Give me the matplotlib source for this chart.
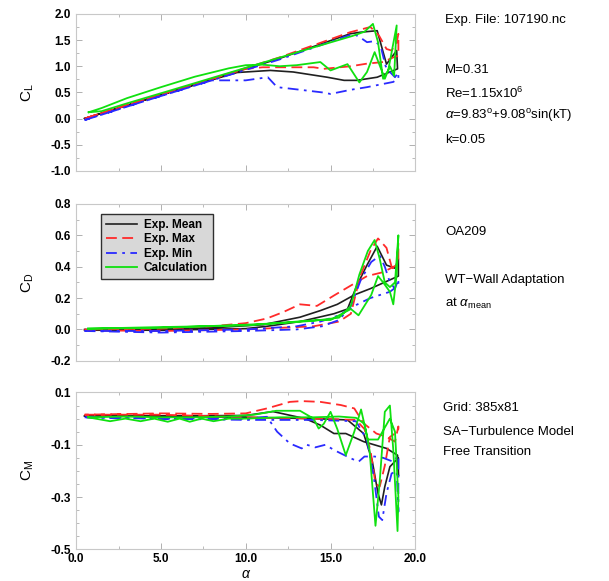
import numpy as np
import matplotlib
matplotlib.use('Agg')
import matplotlib.pyplot as plt
from matplotlib.ticker import MultipleLocator, FixedLocator

# font for everything
plt.rcParams['font.family'] = ['Liberation Sans', 'DejaVu Sans']
plt.rcParams['mathtext.fontset'] = 'custom'
plt.rcParams['mathtext.rm'] = 'Liberation Sans'
plt.rcParams['mathtext.it'] = 'Liberation Sans:italic'

# ---- data: hysteresis loops, upstroke then downstroke ----
# C_L
cl_mean_alpha = [0.5, 4, 8, 12, 16.15, 16.75, 17.75, 18.05, 18.3, 18.6, 18.9, 18.95,
                 17.75, 16.55, 15.8, 14.8, 12.8, 11.45, 9.5, 6, 3, 0.5]
cl_mean = [0.0, 0.35, 0.75, 1.15, 1.62, 1.65, 1.68, 1.33, 1.04, 1.17, 1.3, 0.95,
           0.79, 0.73, 0.73, 0.79, 0.89, 0.92, 0.88, 0.55, 0.25, 0.0]
cl_max_alpha = [0.5, 4, 8, 12, 16.15, 17.35, 17.85, 18.3, 18.6, 18.9, 19.0, 19.0,
                18.7, 18.1, 17.15, 16.2, 14.6, 14.0, 11.0, 10.0, 6, 3, 0.5]
cl_max = [0.0, 0.36, 0.76, 1.17, 1.65, 1.75, 1.59, 1.33, 1.3, 1.45, 1.62, 1.2,
          1.17, 1.08, 1.05, 1.0, 0.95, 0.98, 0.98, 0.95, 0.56, 0.26, 0.0]
cl_min_alpha = [0.5, 4, 8, 12, 16.35, 16.75, 17.15, 17.6, 17.95, 18.25, 18.5, 18.8, 19.0, 19.0,
                18.7, 17.15, 16.2, 15.0, 14.5, 13.2, 11.85, 11.3, 10.0, 8.3, 8.0, 4, 0.5]
cl_min = [-0.03, 0.33, 0.73, 1.13, 1.62, 1.55, 1.46, 1.48, 1.39, 1.0, 0.89, 0.79, 0.88, 0.77,
          0.7, 0.6, 0.55, 0.47, 0.5, 0.55, 0.6, 0.79, 0.73, 0.73, 0.73, 0.33, -0.03]
cl_calc_alpha = [0.74, 1.5, 3, 6, 10, 14, 16.3, 17.0, 17.5, 17.8, 18.1, 18.4, 18.9,
                 18.75, 18.5, 18.2, 17.6, 17.15, 16.7, 16.0, 15.0, 14.4, 13, 12, 11, 10,
                 9, 7, 5, 3, 1.5, 0.74]
cl_calc = [0.12, 0.14, 0.29, 0.58, 0.97, 1.36, 1.58, 1.66, 1.81, 1.46, 0.76, 0.92, 1.78,
           0.82, 1.0, 0.76, 1.27, 0.89, 0.69, 1.04, 0.92, 1.08, 1.02, 1.0, 1.03, 1.02,
           0.96, 0.8, 0.6, 0.39, 0.2, 0.12]

# C_D
cd_mean_alpha = [0.5, 5, 10, 11.25, 13.2, 15.2, 16.0, 16.55, 17.15, 17.75, 18.3, 18.8, 19.0,
                 19.0, 17.35, 16.4, 15.4, 14.4, 13.2, 11, 8, 5, 0.5]
cd_mean = [-0.005, -0.005, 0.005, 0.02, 0.05, 0.1, 0.13, 0.28, 0.41, 0.53, 0.41, 0.39, 0.45,
           0.34, 0.26, 0.22, 0.16, 0.12, 0.078, 0.03, 0.01, 0.005, 0.0]
cd_max_alpha = [0.5, 5, 10, 14, 15.5, 16.2, 16.75, 17.35, 17.8, 18.3, 18.6, 18.9, 19.0,
                19.0, 18.9, 18.1, 17.15, 16.2, 15.2, 14.2, 13.2, 12.2, 11.25, 10, 8, 5, 0.5]
cd_max = [-0.005, -0.01, 0.0, 0.02, 0.05, 0.1, 0.34, 0.5, 0.58, 0.52, 0.4, 0.37, 0.55,
          0.45, 0.41, 0.365, 0.34, 0.28, 0.216, 0.15, 0.16, 0.11, 0.07, 0.04, 0.02, 0.005, 0.0]
cd_min_alpha = [0.5, 5, 10, 13, 14.5, 15.5, 16.2, 16.8, 17.4, 17.9, 18.2, 18.5, 18.8, 19.0,
                19.0, 18.5, 17.35, 16.4, 15.5, 14.4, 13, 10, 5, 0.5]
cd_min = [-0.01, -0.02, -0.01, 0.0, 0.02, 0.06, 0.15, 0.32, 0.43, 0.47, 0.4, 0.3, 0.26, 0.32,
          0.28, 0.24, 0.2, 0.15, 0.09, 0.05, 0.02, 0.0, -0.01, -0.01]
cd_calc_alpha = [0.7, 5, 10, 12, 14, 15.5, 16.2, 16.7, 17.2, 17.6, 17.9, 18.2, 18.5, 18.8, 19.0,
                 18.9, 18.7, 18.5, 18.1, 17.8, 17.4, 16.65, 16.2, 15.5, 15.0, 14.3, 13, 10, 5, 0.7]
cd_calc = [0.005, 0.01, 0.03, 0.04, 0.055, 0.075, 0.15, 0.35, 0.5, 0.57, 0.45, 0.3, 0.27, 0.3, 0.6,
           0.35, 0.16, 0.24, 0.3, 0.34, 0.22, 0.09, 0.13, 0.09, 0.06, 0.06, 0.05, 0.025, 0.015, 0.005]

# C_M
cm_mean_alpha = [0.5, 5, 10, 14, 16, 16.95, 17.45, 17.8, 18.0, 18.2, 18.5, 19.0,
                 19.0, 18.95, 18.3, 16.95, 15.9, 15.2, 14.4, 13.5, 11.6, 10, 5, 0.5]
cm_mean = [0.01, 0.008, 0.005, 0.0, -0.005, -0.057, -0.159, -0.286, -0.33, -0.26, -0.184, -0.15,
           -0.22, -0.14, -0.114, -0.088, -0.057, -0.057, -0.025, 0.0, 0.027, 0.012, 0.01, 0.01]
cm_max_alpha = [0.5, 5, 10, 14, 16.5, 17.0, 17.35, 17.65, 17.9, 18.2, 18.5, 18.8, 19.0,
                19.0, 18.8, 18.3, 17.7, 16.95, 16.4, 15.6, 14.4, 13.3, 12.6, 11.25, 10, 8, 5, 0.5]
cm_max = [0.015, 0.015, 0.005, 0.0, -0.005, -0.04, -0.12, -0.248, -0.26, -0.18, -0.07, -0.057, -0.04,
          -0.03, -0.088, -0.07, -0.057, -0.018, 0.039, 0.052, 0.064, 0.067, 0.064, 0.039, 0.02,
          0.018, 0.02, 0.015]
cm_min_alpha = [0.5, 5, 10, 14, 16.5, 17.15, 17.55, 17.85, 18.05, 18.3, 18.6, 18.9, 19.0,
                19.0, 18.7, 18.1, 17.6, 17.0, 16.65, 16.2, 15.2, 14.7, 14.1, 13.6, 13.3, 12.6,
                11.85, 11.25, 10, 5, 0.5]
cm_min = [0.005, 0.0, -0.005, -0.005, -0.01, -0.082, -0.222, -0.375, -0.388, -0.286, -0.21, -0.2,
          -0.356, -0.14, -0.165, -0.15, -0.145, -0.145, -0.165, -0.152, -0.12, -0.1, -0.11, -0.1,
          -0.114, -0.095, -0.05, 0.007, 0.0, 0.0, 0.005]
cm_calc_alpha = [0.7, 2.0, 2.9, 3.8, 4.6, 5.4, 6.1, 6.7, 7.4, 8.1, 9, 10, 12, 14, 15.5, 16.5,
                 17.0, 17.3, 17.65, 17.9, 18.2, 18.5, 18.7, 18.95, 19.0,
                 18.8, 18.5, 17.8, 17.2, 16.8, 16.4, 15.9, 15.4, 15.0, 14.6, 14.3, 14.0, 13.2,
                 11.8, 10.5, 9, 7, 5, 3, 0.7]
cm_calc = [0.005, -0.01, 0.0, -0.01, 0.0, -0.012, 0.0, -0.012, 0.0, -0.01, 0.0, 0.0, 0.005, 0.005,
           0.008, 0.003, -0.02, -0.12, -0.41, -0.24, 0.026, 0.05, -0.12, -0.43, -0.3,
           -0.05, 0.0, -0.08, -0.08, 0.035, -0.05, -0.14, -0.04, 0.026, -0.02, -0.038, 0.0, 0.03,
           0.03, 0.015, 0.008, 0.005, 0.005, 0.008, 0.005]

series_labels = ['Exp. Mean', 'Exp. Max', 'Exp. Min', 'Calculation']
cm_ticks = [0.1, -0.1, -0.3, -0.5]

# ---- styles ----
styles = [dict(color='#202020', ls='-', lw=1.2),
          dict(color='#ff2a2a', ls=(0, (6, 3)), lw=1.3),
          dict(color='#2a2aff', ls=(0, (6, 3, 1.5, 3)), lw=1.3),
          dict(color='#10e010', ls='-', lw=1.3)]

fig = plt.figure(figsize=(6.09, 5.81), dpi=100)

def make_ax(rect, ylim, ymajor, yminor, ylabel, sub):
    ax = fig.add_axes(rect)
    ax.set_xlim(0, 20)
    ax.set_ylim(*ylim)
    ax.xaxis.set_major_locator(MultipleLocator(5))
    ax.xaxis.set_minor_locator(MultipleLocator(2.5))
    if isinstance(ymajor, list):
        ax.yaxis.set_major_locator(FixedLocator(ymajor))
    else:
        ax.yaxis.set_major_locator(MultipleLocator(ymajor))
    ax.yaxis.set_minor_locator(MultipleLocator(yminor))
    for sp in ax.spines.values():
        sp.set_color('#c8c8c8')
        sp.set_linewidth(0.8)
    ax.tick_params(which='both', direction='in', top=True, right=True, color='#b0b0b0')
    ax.tick_params(which='major', length=4, width=0.7, labelsize=8.5, pad=4)
    ax.tick_params(which='minor', length=2.5, width=0.6)
    ax.yaxis.set_major_formatter(plt.FormatStrFormatter('%.1f'))
    ax.set_ylabel(ylabel + r'$_\mathregular{' + sub + '}$', fontsize=11, labelpad=10)
    return ax

ax1 = make_ax([0.125, 0.706, 0.557, 0.270], (-1.0, 2.0), 0.5, 0.25, 'C', 'L')
ax2 = make_ax([0.125, 0.379, 0.557, 0.270], (-0.2, 0.8), 0.2, 0.1, 'C', 'D')
ax3 = make_ax([0.125, 0.0545, 0.557, 0.270], (-0.5, 0.1), cm_ticks, 0.05, 'C', 'M')

ax1.set_xticklabels([])
ax2.set_xticklabels([])
ax3.xaxis.set_major_formatter(plt.FormatStrFormatter('%.1f'))
ax3.tick_params(axis='x', which='major', pad=2.5)
fig.canvas.draw()
for ax in (ax1, ax2, ax3):
    for lab in ax.get_yticklabels() + ax.get_xticklabels():
        lab.set_fontweight('bold')

cl_data = [(cl_mean_alpha, cl_mean), (cl_max_alpha, cl_max), (cl_min_alpha, cl_min), (cl_calc_alpha, cl_calc)]
cd_data = [(cd_mean_alpha, cd_mean), (cd_max_alpha, cd_max), (cd_min_alpha, cd_min), (cd_calc_alpha, cd_calc)]
cm_data = [(cm_mean_alpha, cm_mean), (cm_max_alpha, cm_max), (cm_min_alpha, cm_min), (cm_calc_alpha, cm_calc)]

for ax, data in ((ax1, cl_data), (ax2, cd_data), (ax3, cm_data)):
    for (a, v), st, lab in zip(data, styles, series_labels):
        ax.plot(a, v, label=lab, **st)

# alpha label sits just under the tick labels, kept inside the figure
ax3.set_xlabel(r'$\alpha$', fontsize=10)
ax3.xaxis.set_label_coords(0.5, -0.115)

leg = ax2.legend(loc='upper left', bbox_to_anchor=(0.055, 0.975), fancybox=False,
                 frameon=True, handlelength=2.6, handletextpad=0.6, fontsize=8.5,
                 borderpad=0.45, labelspacing=0.2)
leg.get_frame().set_facecolor('#d8d8d8')
leg.get_frame().set_edgecolor('#303030')
leg.get_frame().set_alpha(1)
for t in leg.get_texts():
    t.set_fontweight('bold')

# ---- annotation texts on the right ----
def put(y_px, s, x_px=445):
    fig.text(x_px / 609.0, 1 - y_px / 581.0, s, fontsize=9.5, va='center', ha='left')

put(20, 'Exp. File: 107190.nc')
put(70, 'M=0.31')
put(93, r'Re=1.15x10$^\mathregular{6}$')
put(116, r'$\alpha$=9.83$^\mathregular{o}$+9.08$^\mathregular{o}$sin(kT)')
put(140, 'k=0.05')
put(232, 'OA209')
put(280, 'WT\u2212Wall Adaptation')
put(303, r'at $\alpha_\mathregular{mean}$')
put(408, 'Grid: 385x81', 443)
put(432, 'SA\u2212Turbulence Model', 443)
put(452, 'Free Transition', 443)

fig.savefig('out.png', dpi=100)
